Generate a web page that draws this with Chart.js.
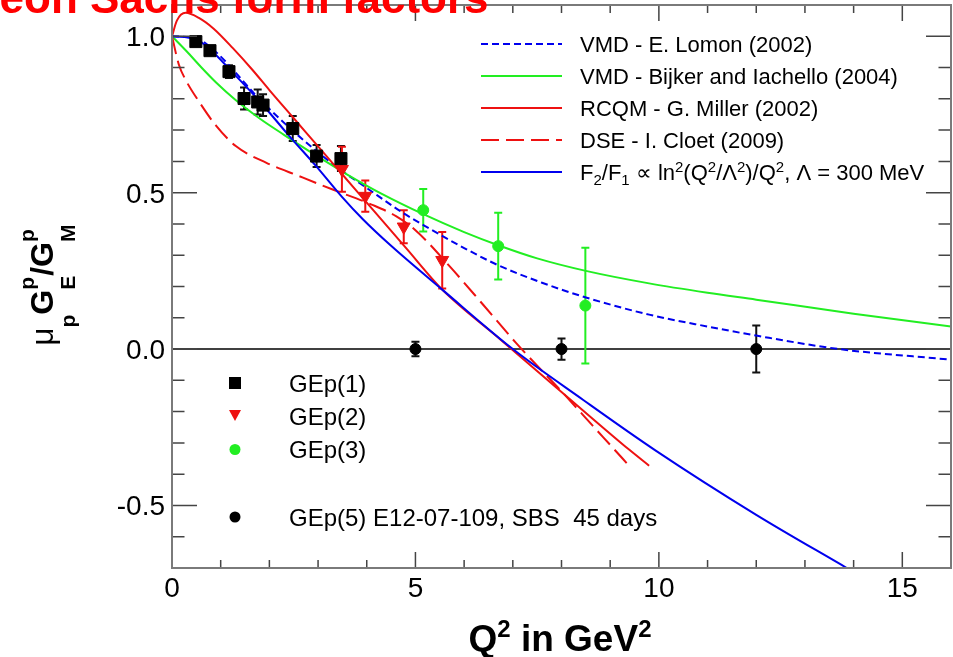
<!DOCTYPE html>
<html lang="en">
<head>
  <meta charset="UTF-8">
  <title>Proton form factor ratio</title>
  <style>
    * { margin: 0; padding: 0; }
    body { background: #fff; width: 953px; height: 657px; overflow: hidden; }
    #c { display: block; }
  </style>
</head>
<body>
  <canvas id="c" width="953" height="657"></canvas>

  <script src="https://cdn.jsdelivr.net/npm/chart.js@4"></script>
  <script>
    // --- data ---
    // GEp(1) squares
    var gep1X = [0.49, 0.78, 1.17, 1.48, 1.76, 1.87, 2.48, 2.97, 3.47];
    var gep1Y = [0.983, 0.954, 0.887, 0.801, 0.790, 0.780, 0.705, 0.617, 0.609];
    var gep1E = [0.010, 0.010, 0.020, 0.035, 0.040, 0.035, 0.040, 0.035, 0.040];
    // GEp(2) triangles
    var gep2X = [3.49, 3.97, 4.76, 5.55];
    var gep2Y = [0.575, 0.489, 0.391, 0.284];
    var gep2E = [0.072, 0.050, 0.053, 0.090];
    // GEp(3) circles
    var gep3X = [5.16, 6.70, 8.49];
    var gep3Y = [0.444, 0.329, 0.139];
    var gep3E = [0.068, 0.107, 0.185];
    // GEp(5) projected
    var gep5X = [5.0, 8.0, 12.0];
    var gep5Y = [0.0, 0.0, 0.0];
    var gep5E = [0.023, 0.034, 0.075];

    // model curves
    var lomonX = [0, 0.5, 0.9, 1.3, 1.7, 2.2, 2.8, 3.4, 4.0, 4.7, 5.2, 6.0, 6.7, 7.6, 8.5, 9.8, 11.0, 12.0, 13.7, 16.0];
    var lomonY = [1.0, 0.993, 0.95, 0.885, 0.815, 0.738, 0.655, 0.58, 0.515, 0.44, 0.393, 0.323, 0.268, 0.212, 0.165, 0.11, 0.072, 0.043, 0.0, -0.034];

    var bijkerX = [0, 0.3, 0.6, 0.9, 1.3, 1.8, 2.3, 3.0, 3.6, 4.3, 5.15, 6.0, 6.7, 7.5, 8.5, 9.8, 11.0, 12.0, 14.0, 16.0];
    var bijkerY = [1.0, 0.952, 0.901, 0.853, 0.797, 0.737, 0.685, 0.615, 0.558, 0.497, 0.432, 0.374, 0.332, 0.29, 0.25, 0.21, 0.18, 0.158, 0.113, 0.072];

    var millerX = [0, 0.1, 0.28, 0.56, 0.85, 1.25, 1.65, 2.0, 2.5, 3.0, 3.5, 4.0, 4.8, 5.55, 6.75, 8.0, 9.4, 9.8];
    var millerY = [1.0, 1.05, 1.075, 1.058, 1.025, 0.962, 0.893, 0.828, 0.738, 0.648, 0.558, 0.468, 0.324, 0.19, 0.03, -0.137, -0.323, -0.373];

    var cloetX = [0, 0.14, 0.3, 0.56, 0.9, 1.31, 1.93, 2.61, 3.3, 4.1, 4.6, 5.0, 5.7, 6.4, 7.07, 8.1, 8.64, 9.05, 9.37];
    var cloetY = [1.0, 0.91, 0.855, 0.79, 0.715, 0.649, 0.596, 0.553, 0.51, 0.462, 0.425, 0.38, 0.265, 0.14, 0.019, -0.152, -0.245, -0.315, -0.37];

    var logX = [0, 0.5, 0.8, 1.24, 1.79, 2.41, 2.96, 3.5, 3.92, 4.5, 5.55, 7.0, 8.44, 9.92, 12.0, 13.86];
    var logY = [1.0, 0.99, 0.955, 0.885, 0.794, 0.681, 0.585, 0.485, 0.415, 0.33, 0.19, 0.0, -0.162, -0.323, -0.53, -0.7];

    // axes
    var xMajor = [0, 5, 10, 15];
    var yMajor = [-0.5, 0.0, 0.5, 1.0];
    var yLabels = ["-0.5", "0.0", "0.5", "1.0"];

    var BLUE = "#0000ee", GREEN = "#22ee22", RED = "#ee1111";

    function pts(xs, ys) { return xs.map(function (x, i) { return { x: x, y: ys[i] }; }); }

    function lineSet(xs, ys, color, dash) {
      return { data: pts(xs, ys), showLine: true, borderColor: color, borderWidth: 2,
               borderDash: dash || [], pointRadius: 0, cubicInterpolationMode: "monotone", fill: false };
    }
    function pointSet(xs, ys, color, style, r, rot) {
      return { data: pts(xs, ys), showLine: false, pointStyle: style, pointRadius: r,
               pointRotation: rot || 0, backgroundColor: color, borderColor: color, borderWidth: 1 };
    }

    // text made of pieces (sub/superscripts)
    function runs(ctx, x, y, parts, dry) {
      var cx = x, keepW = 0;
      parts.forEach(function (p) {
        ctx.font = p.f;
        var w = ctx.measureText(p.t).width;
        if (!dry) ctx.fillText(p.t, cx, y + (p.dy || 0));
        if (p.keep) { keepW = w; }
        else { cx += Math.max(w, keepW); keepW = 0; }
      });
      return cx - x;
    }

    var errorBars = {
      id: "errorBars",
      beforeDatasetsDraw: function (chart) {
        var ctx = chart.ctx, xs = chart.scales.x, ys = chart.scales.y, a = chart.chartArea;
        ctx.save();
        // zero line
        ctx.strokeStyle = "#000"; ctx.lineWidth = 1.5;
        ctx.beginPath();
        ctx.moveTo(a.left, ys.getPixelForValue(0)); ctx.lineTo(a.right, ys.getPixelForValue(0));
        ctx.stroke();
        [[gep1X, gep1Y, gep1E, "#111"], [gep2X, gep2Y, gep2E, RED],
         [gep3X, gep3Y, gep3E, GREEN], [gep5X, gep5Y, gep5E, "#111"]].forEach(function (s) {
          ctx.strokeStyle = s[3]; ctx.lineWidth = 2;
          s[0].forEach(function (x, i) {
            var px = xs.getPixelForValue(x);
            var t = ys.getPixelForValue(s[1][i] + s[2][i]);
            var b = ys.getPixelForValue(s[1][i] - s[2][i]);
            ctx.beginPath();
            ctx.moveTo(px, t); ctx.lineTo(px, b);
            ctx.moveTo(px - 4, t); ctx.lineTo(px + 4, t);
            ctx.moveTo(px - 4, b); ctx.lineTo(px + 4, b);
            ctx.stroke();
          });
        });
        ctx.restore();
      }
    };

    var frame = {
      id: "frame",
      afterDraw: function (chart) {
        var ctx = chart.ctx, xs = chart.scales.x, ys = chart.scales.y, a = chart.chartArea;
        ctx.save();
        // ticks
        ctx.strokeStyle = "#444"; ctx.lineWidth = 1.5;
        ctx.beginPath();
        for (var i = 0; i <= 16; i++) {
          var px = xs.getPixelForValue(i), len = (i % 5 === 0) ? 16 : 8;
          ctx.moveTo(px, a.bottom); ctx.lineTo(px, a.bottom - len);
          ctx.moveTo(px, a.top); ctx.lineTo(px, a.top + len);
        }
        for (var k = -7; k <= 11; k++) {
          var py = ys.getPixelForValue(k / 10), ln = (k % 5 === 0) ? 25 : 12.5;
          ctx.moveTo(a.left, py); ctx.lineTo(a.left + ln, py);
          ctx.moveTo(a.right, py); ctx.lineTo(a.right - ln, py);
        }
        ctx.stroke();
        // frame
        ctx.strokeStyle = "#7a7a7a"; ctx.lineWidth = 2;
        ctx.strokeRect(a.left, a.top, a.right - a.left, a.bottom - a.top);

        // tick labels
        ctx.fillStyle = "#000";
        ctx.font = "28px 'Liberation Sans', Arial, sans-serif";
        ctx.textAlign = "center"; ctx.textBaseline = "alphabetic";
        xMajor.forEach(function (v) { ctx.fillText(String(v), xs.getPixelForValue(v), 597); });
        ctx.textAlign = "right";
        yMajor.forEach(function (v, i) { ctx.fillText(yLabels[i], 165, ys.getPixelForValue(v) + 10); });

        // x title
        ctx.textAlign = "left";
        var bf = "bold 37px 'Liberation Sans', Arial, sans-serif";
        var sf = "bold 24px 'Liberation Sans', Arial, sans-serif";
        var xt = [{ t: "Q", f: bf }, { t: "2", f: sf, dy: -14 }, { t: " in GeV", f: bf }, { t: "2", f: sf, dy: -14 }];
        var w = runs(ctx, 0, 0, xt, true);
        runs(ctx, 560 - w / 2, 651, xt);

        // y title (rotated)
        var mf = "bold 32px 'Liberation Sans', Arial, sans-serif";
        var uf = "31px 'Liberation Sans', Arial, sans-serif";
        var pf = "bold 21px 'Liberation Sans', Arial, sans-serif";
        var yt = [{ t: "\u03bc", f: uf }, { t: "p", f: pf, dy: 22 },
                  { t: "G", f: mf }, { t: "p", f: pf, dy: -19, keep: true }, { t: "E", f: pf, dy: 22 },
                  { t: "/", f: mf },
                  { t: "G", f: mf }, { t: "p", f: pf, dy: -19, keep: true }, { t: "M", f: pf, dy: 22 }];
        var yw = runs(ctx, 0, 0, yt, true);
        ctx.save();
        ctx.translate(53, 285 + yw / 2);
        ctx.rotate(-Math.PI / 2);
        runs(ctx, 0, 0, yt);
        ctx.restore();

        // red title cut by the top edge
        ctx.fillStyle = "#ff0000";
        ctx.font = "bold 44px 'Liberation Sans', Arial, sans-serif";
        var pre = ctx.measureText("Nucleon ").width;
        ctx.fillText("Nucleon Sachs form factors", 90 - pre, 13);

        // model legend (top right)
        var lf = "22px 'Liberation Sans', Arial, sans-serif";
        var lsub = "15px 'Liberation Sans', Arial, sans-serif";
        var rows = [
          { y: 44, c: BLUE, d: [7, 4], p: [{ t: "VMD - E. Lomon (2002)", f: lf }] },
          { y: 76, c: GREEN, d: [], p: [{ t: "VMD - Bijker and Iachello (2004)", f: lf }] },
          { y: 108, c: RED, d: [], p: [{ t: "RCQM - G. Miller (2002)", f: lf }] },
          { y: 140, c: RED, d: [18, 7], p: [{ t: "DSE - I. Cloet (2009)", f: lf }] },
          { y: 172, c: BLUE, d: [], p: [
              { t: "F", f: lf }, { t: "2", f: lsub, dy: 5 }, { t: "/F", f: lf }, { t: "1", f: lsub, dy: 5 },
              { t: " \u221d ln", f: lf }, { t: "2", f: lsub, dy: -8 }, { t: "(Q", f: lf }, { t: "2", f: lsub, dy: -8 },
              { t: "/\u039b", f: lf }, { t: "2", f: lsub, dy: -8 }, { t: ")/Q", f: lf }, { t: "2", f: lsub, dy: -8 },
              { t: ", \u039b = 300 MeV", f: lf }] }
        ];
        rows.forEach(function (r) {
          ctx.strokeStyle = r.c; ctx.lineWidth = 2; ctx.setLineDash(r.d);
          ctx.beginPath(); ctx.moveTo(481, r.y); ctx.lineTo(562, r.y); ctx.stroke();
          ctx.setLineDash([]);
          ctx.fillStyle = "#000";
          runs(ctx, 580, r.y + 8, r.p);
        });

        // data legend (lower left)
        ctx.font = "24px 'Liberation Sans', Arial, sans-serif";
        ctx.fillStyle = "#000";
        ctx.fillRect(229, 377, 12, 12);
        ctx.fillText("GEp(1)", 289, 383 + 8.5);
        ctx.fillStyle = RED;
        ctx.beginPath(); ctx.moveTo(229, 410); ctx.lineTo(241, 410); ctx.lineTo(235, 421); ctx.closePath(); ctx.fill();
        ctx.fillStyle = "#000"; ctx.fillText("GEp(2)", 289, 416 + 8.5);
        ctx.fillStyle = GREEN;
        ctx.beginPath(); ctx.arc(235, 449.5, 5.5, 0, 2 * Math.PI); ctx.fill();
        ctx.fillStyle = "#000"; ctx.fillText("GEp(3)", 289, 449.5 + 8.5);
        ctx.beginPath(); ctx.arc(235, 517, 5.5, 0, 2 * Math.PI); ctx.fill();
        ctx.fillText("GEp(5) E12-07-109, SBS  45 days", 289, 517 + 8.5);
        ctx.restore();
      }
    };

    new Chart(document.getElementById("c"), {
      type: "scatter",
      data: {
        datasets: [
          pointSet(gep1X, gep1Y, "#000", "rect", 8.5),
          pointSet(gep2X, gep2Y, RED, "triangle", 7.5, 180),
          pointSet(gep3X, gep3Y, GREEN, "circle", 5.5),
          pointSet(gep5X, gep5Y, "#000", "circle", 5.5),
          lineSet(logX, logY, BLUE),
          lineSet(cloetX, cloetY, RED, [18, 7]),
          lineSet(millerX, millerY, RED),
          lineSet(bijkerX, bijkerY, GREEN),
          lineSet(lomonX, lomonY, BLUE, [7, 4])
        ]
      },
      options: {
        responsive: false,
        animation: false,
        devicePixelRatio: 1,
        layout: { autoPadding: false, padding: { left: 172, right: 2, top: 5, bottom: 89 } },
        scales: {
          x: { type: "linear", min: 0, max: 16, display: false },
          y: { type: "linear", min: -0.7, max: 1.1, display: false }
        },
        plugins: { legend: { display: false }, tooltip: { enabled: false }, title: { display: false } }
      },
      plugins: [errorBars, frame]
    });
  </script>
</body>
</html>
